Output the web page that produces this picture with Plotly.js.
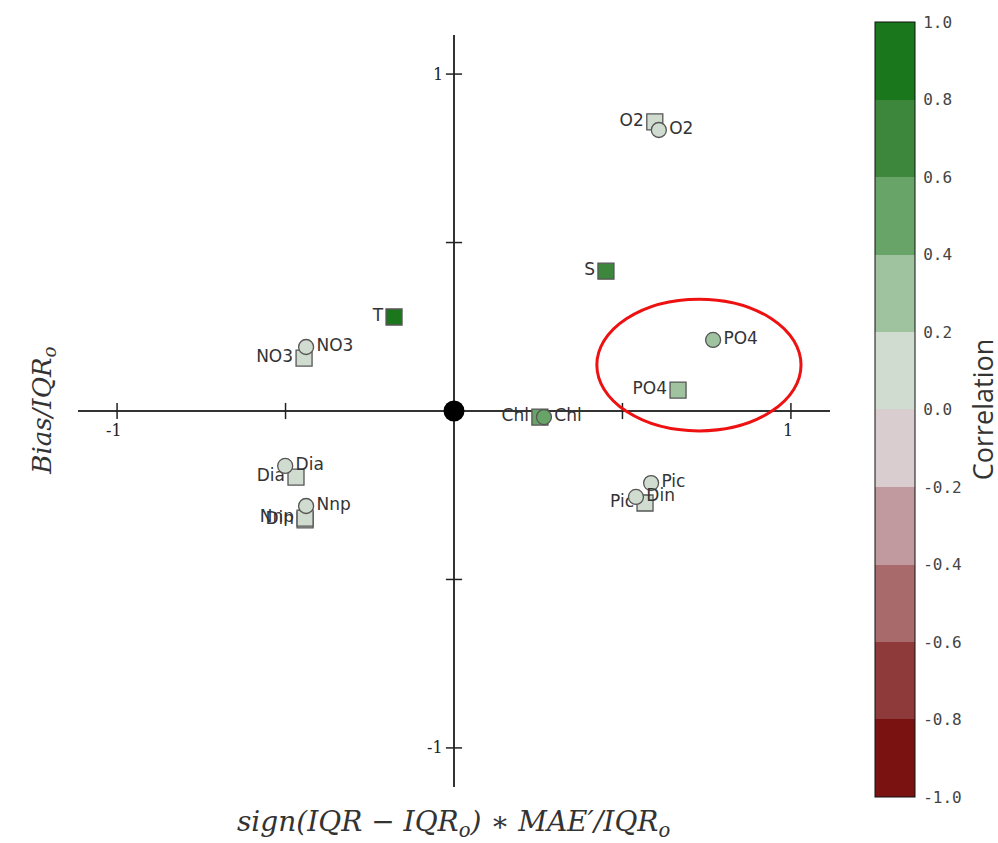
<!DOCTYPE html>
<html>
<head>
<meta charset="utf-8">
<script src="https://cdn.plot.ly/plotly-3.0.1.min.js"></script>
<style>html,body{margin:0;padding:0;background:#fff;}#chart{width:998px;height:843px;}</style>
</head>
<body>
<div id="chart"></div>
<script>
// ---- data ----
const squareNames = ['T', 'S', 'O2', 'NO3', 'PO4', 'Chl', 'Dia', 'Din', 'Nnp', 'Pic'];
const squareX = [-0.178, 0.451, 0.596, -0.445, 0.665, 0.255, -0.469, -0.442, -0.442, 0.567];
const squareY = [0.279, 0.415, 0.858, 0.157, 0.062, -0.018, -0.196, -0.323, -0.318, -0.273];
const squareCorr = [0.88, 0.72, 0.10, 0.05, 0.30, 0.50, 0.05, 0.05, 0.05, 0.05];

const circleNames = ['O2', 'NO3', 'PO4', 'Chl', 'Dia', 'Nnp', 'Pic', 'Din'];
const circleX = [0.608, -0.439, 0.769, 0.267, -0.501, -0.439, 0.585, 0.540];
const circleY = [0.834, 0.190, 0.211, -0.018, -0.163, -0.282, -0.214, -0.255];
const circleCorr = [0.05, 0.05, 0.35, 0.50, 0.02, 0.10, 0.05, 0.05];

const axisTicks = [-1, -0.5, 0.5, 1];
const labelledTicks = [-1, 1];
const tickLabels = ['-1', '1'];

const binColors = ['#7a1212', '#8e3a3a', '#a86a6a', '#c09a9e', '#dacdcf',
                   '#cfdccf', '#9fc39f', '#68a468', '#3d873d', '#1b771b'];
const corrTicks = [-1.0, -0.8, -0.6, -0.4, -0.2, 0.0, 0.2, 0.4, 0.6, 0.8, 1.0];

// ---- build discrete colorscale ----
const colorscale = [];
binColors.forEach((c, i) => {
  colorscale.push([i / binColors.length, c]);
  colorscale.push([(i + 1) / binColors.length, c]);
});

const R = 1.116;
const tickHalf = 0.024;

const markerCommon = {
  colorscale: colorscale, cmin: -1, cmax: 1,
  line: {color: '#555', width: 1.3}
};

const traces = [
  {
    type: 'scatter', mode: 'markers+text',
    x: squareX, y: squareY, text: squareNames,
    textposition: 'middle left',
    textfont: {family: 'DejaVu Sans', size: 17, color: '#333'},
    marker: Object.assign({}, markerCommon, {
      symbol: 'square', size: 16, color: squareCorr,
      showscale: true,
      colorbar: {
        thickness: 40, len: 775, lenmode: 'pixels',
        x: 1.0598, xanchor: 'left', y: 1.0173, yanchor: 'top',
        xpad: 0, ypad: 0,
        outlinewidth: 1, outlinecolor: '#111',
        tickvals: corrTicks, ticktext: corrTicks.map(v => v.toFixed(1)),
        ticks: 'outside', ticklen: 5, tickcolor: 'rgba(0,0,0,0)',
        tickfont: {family: 'DejaVu Sans Mono', size: 16, color: '#444'},
        title: {text: 'Correlation', side: 'right',
                font: {family: 'Open Sans', size: 27, color: '#333'}}
      }
    }),
    hoverinfo: 'skip', cliponaxis: false
  },
  {
    type: 'scatter', mode: 'markers+text',
    x: circleX, y: circleY, text: circleNames,
    textposition: 'middle right',
    textfont: {family: 'DejaVu Sans', size: 17, color: '#333'},
    marker: Object.assign({}, markerCommon, {
      symbol: 'circle', size: 15, color: circleCorr
    }),
    hoverinfo: 'skip', cliponaxis: false
  },
  {
    type: 'scatter', mode: 'markers', x: [0], y: [0],
    marker: {color: '#000', size: 21}, hoverinfo: 'skip'
  }
];

const shapes = [];
axisTicks.forEach(t => {
  shapes.push({type: 'line', xref: 'x', yref: 'y', x0: t, x1: t, y0: -tickHalf, y1: tickHalf,
               line: {color: '#222', width: 1.5}});
  shapes.push({type: 'line', xref: 'x', yref: 'y', y0: t, y1: t, x0: -tickHalf, x1: tickHalf,
               line: {color: '#222', width: 1.5}});
});
// highlight ellipse around PO4
shapes.push({type: 'circle', xref: 'x', yref: 'y', x0: 0.424, x1: 1.030, y0: -0.059, y1: 0.332,
             line: {color: '#ee1111', width: 3}});

const annotations = [];
labelledTicks.forEach((t, i) => {
  annotations.push({xref: 'x', yref: 'y', x: t, y: 0, text: tickLabels[i], showarrow: false,
                    xanchor: 'center', yanchor: 'top', xshift: -3, yshift: -8,
                    font: {family: 'DejaVu Serif', size: 16, color: '#222'}});
  annotations.push({xref: 'x', yref: 'y', x: 0, y: t, text: tickLabels[i], showarrow: false,
                    xanchor: 'right', yanchor: 'middle', xshift: -9,
                    font: {family: 'DejaVu Serif', size: 16, color: '#222'}});
});
annotations.push({xref: 'paper', yref: 'paper', x: 0.4987, y: -0.048, yanchor: 'middle',
                  text: 'sign(IQR − IQR<sub>o</sub>) ∗ MAE′/IQR<sub>o</sub>', showarrow: false,
                  font: {family: 'DejaVu Serif', size: 28, color: '#333', style: 'italic'}});
annotations.push({xref: 'paper', yref: 'paper', x: -0.047, y: 0.5, xanchor: 'center', textangle: -90,
                  text: 'Bias/IQR<sub>o</sub>', showarrow: false,
                  font: {family: 'DejaVu Serif', size: 26, color: '#333', style: 'italic'}});

const layout = {
  width: 998, height: 843,
  margin: {l: 78, r: 168, t: 35, b: 56, autoexpand: false},
  paper_bgcolor: '#fff', plot_bgcolor: '#fff',
  showlegend: false,
  xaxis: {range: [-R, R], showgrid: false, showline: false, showticklabels: false, ticks: '',
          zeroline: true, zerolinecolor: '#333', zerolinewidth: 1.5, fixedrange: true},
  yaxis: {range: [-R, R], showgrid: false, showline: false, showticklabels: false, ticks: '',
          zeroline: true, zerolinecolor: '#333', zerolinewidth: 1.5, fixedrange: true},
  shapes: shapes,
  annotations: annotations
};

Plotly.newPlot('chart', traces, layout, {displayModeBar: false, staticPlot: true});
</script>
</body>
</html>
